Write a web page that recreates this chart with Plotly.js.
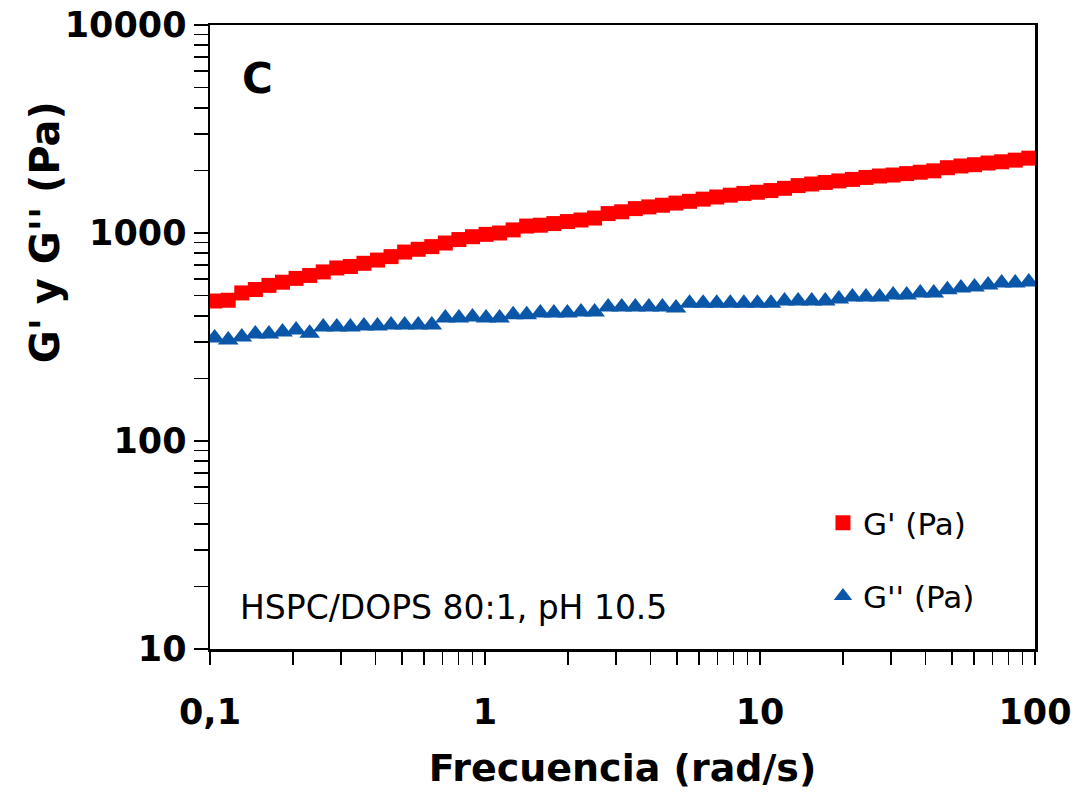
<!DOCTYPE html>
<html>
<head>
<meta charset="utf-8">
<script src="https://cdn.plot.ly/plotly-3.0.1.min.js"></script>
<style>html,body{margin:0;padding:0;background:#fff;}#chart{width:1077px;height:800px;}</style>
</head>
<body>
<div id="chart"></div>
<script>
// Frequency (rad/s)
var freq = [0.104, 0.1165, 0.1305, 0.1462, 0.1638, 0.1835, 0.2056, 0.2304, 0.2581, 0.2891,
  0.3239, 0.3629, 0.4065, 0.4554, 0.5102, 0.5716, 0.6404, 0.7174, 0.8037, 0.9004,
  1.009, 1.130, 1.266, 1.418, 1.589, 1.780, 1.994, 2.234, 2.503, 2.804,
  3.142, 3.520, 3.943, 4.418, 4.949, 5.545, 6.212, 6.960, 7.797, 8.736,
  9.786, 10.96, 12.28, 13.76, 15.42, 17.27, 19.35, 21.68, 24.29, 27.21,
  30.48, 34.15, 38.26, 42.85, 48.02, 53.79, 60.26, 67.51, 75.63, 84.74, 94.93];
// G' (Pa)
var gPrime = [471, 475, 515, 535, 560, 580, 605, 625, 650, 679,
  690, 715, 741, 770, 810, 835, 860, 895, 930, 960,
  985, 1000, 1035, 1080, 1090, 1110, 1135, 1155, 1180, 1240,
  1265, 1310, 1335, 1360, 1393, 1420, 1455, 1490, 1520, 1550,
  1570, 1600, 1640, 1690, 1720, 1750, 1780, 1810, 1850, 1880,
  1900, 1930, 1960, 1990, 2060, 2100, 2130, 2170, 2200, 2240, 2290];
// G'' (Pa)
var gDoublePrime = [313, 306, 316, 327, 327, 334, 342, 330, 353, 353,
  353, 357, 357, 361, 361, 361, 361, 390, 390, 395,
  390, 390, 404, 404, 412, 412, 412, 417, 417, 441,
  441, 441, 441, 441, 436, 460, 460, 460, 460, 460,
  460, 460, 471, 471, 471, 471, 482, 492, 492, 492,
  503, 503, 515, 515, 533, 544, 550, 562, 575, 575, 581];

var xTickVals = [0.1, 1, 10, 100];
var xTickText = ["0,1", "1", "10", "100"];
var yTickVals = [10, 100, 1000, 10000];
var yTickText = ["10", "100", "1000", "10000"];
var seriesNames = ["G' (Pa)", "G'' (Pa)"];

function minorVals(lo, hi) {
  var out = [];
  for (var d = lo; d < hi; d *= 10) {
    for (var k = 2; k <= 9; k++) out.push(d * k);
  }
  return out;
}

var traces = [
  {
    x: freq, y: gPrime, name: seriesNames[0], type: 'scatter', mode: 'markers',
    legendgroup: 'a',
    marker: {symbol: 'square', size: 15, color: '#ff0000'}
  },
  {
    x: freq, y: gDoublePrime, name: seriesNames[1], type: 'scatter', mode: 'markers',
    legendgroup: 'b',
    marker: {symbol: 'triangle-up', size: 18, color: '#0a56a8'}
  }
];

var tickFont = {family: 'DejaVu Sans', size: 35, color: '#000', weight: 'bold'};

var layout = {
  width: 1077, height: 800,
  margin: {l: 210, r: 42, t: 25, b: 151},
  paper_bgcolor: '#fff', plot_bgcolor: '#fff',
  showlegend: true,
  xaxis: {
    type: 'log', range: [-1, 2],
    tickmode: 'array', tickvals: xTickVals, ticktext: xTickText,
    ticks: 'outside', ticklen: 13, tickwidth: 1.5, tickcolor: '#000',
    minor: {tickmode: 'array', tickvals: minorVals(0.1, 100), ticks: 'outside', ticklen: 13, tickwidth: 1.5, tickcolor: '#000', showgrid: false},
    ticklabelstandoff: 17,
    showline: true, linecolor: '#000', linewidth: 2.5, mirror: true,
    showgrid: false, zeroline: false,
    tickfont: tickFont,
    title: {text: 'Frecuencia (rad/s)', font: {family: 'DejaVu Sans', size: 38, color: '#000', weight: 'bold'}, standoff: 24},
    automargin: false
  },
  yaxis: {
    type: 'log', range: [1, 4],
    tickmode: 'array', tickvals: yTickVals, ticktext: yTickText,
    ticks: 'outside', ticklen: 14, tickwidth: 1.5, tickcolor: '#000',
    minor: {tickmode: 'array', tickvals: minorVals(10, 10000), ticks: 'outside', ticklen: 14, tickwidth: 1.5, tickcolor: '#000', showgrid: false},
    showline: true, linecolor: '#000', linewidth: 2.5, mirror: true,
    showgrid: false, zeroline: false,
    tickfont: tickFont,
    automargin: false
  },
  legend: {
    x: 0.743, y: 0.245, xanchor: 'left', yanchor: 'top',
    bgcolor: 'rgba(0,0,0,0)', borderwidth: 0,
    traceorder: 'grouped', tracegroupgap: 30,
    font: {family: 'DejaVu Sans', size: 31, color: '#000'}
  },
  annotations: [
    {text: "G' y G'' (Pa)", xref: 'paper', yref: 'paper', x: -0.2, y: 0.668,
     xanchor: 'center', yanchor: 'middle', textangle: -90, showarrow: false,
     font: {family: 'DejaVu Sans', size: 40, color: '#000', weight: 'bold'}},
    {text: 'C', xref: 'paper', yref: 'paper', x: 0.058, y: 0.915,
     xanchor: 'center', yanchor: 'middle', showarrow: false,
     font: {family: 'DejaVu Sans', size: 42, color: '#000', weight: 'bold'}},
    {text: 'HSPC/DOPS 80:1, pH 10.5', xref: 'paper', yref: 'paper', x: 0.034, y: 0.066,
     xanchor: 'left', yanchor: 'middle', showarrow: false,
     font: {family: 'DejaVu Sans', size: 33, color: '#000'}}
  ]
};

Plotly.newPlot('chart', traces, layout, {displayModeBar: false, staticPlot: true});
</script>
</body>
</html>
